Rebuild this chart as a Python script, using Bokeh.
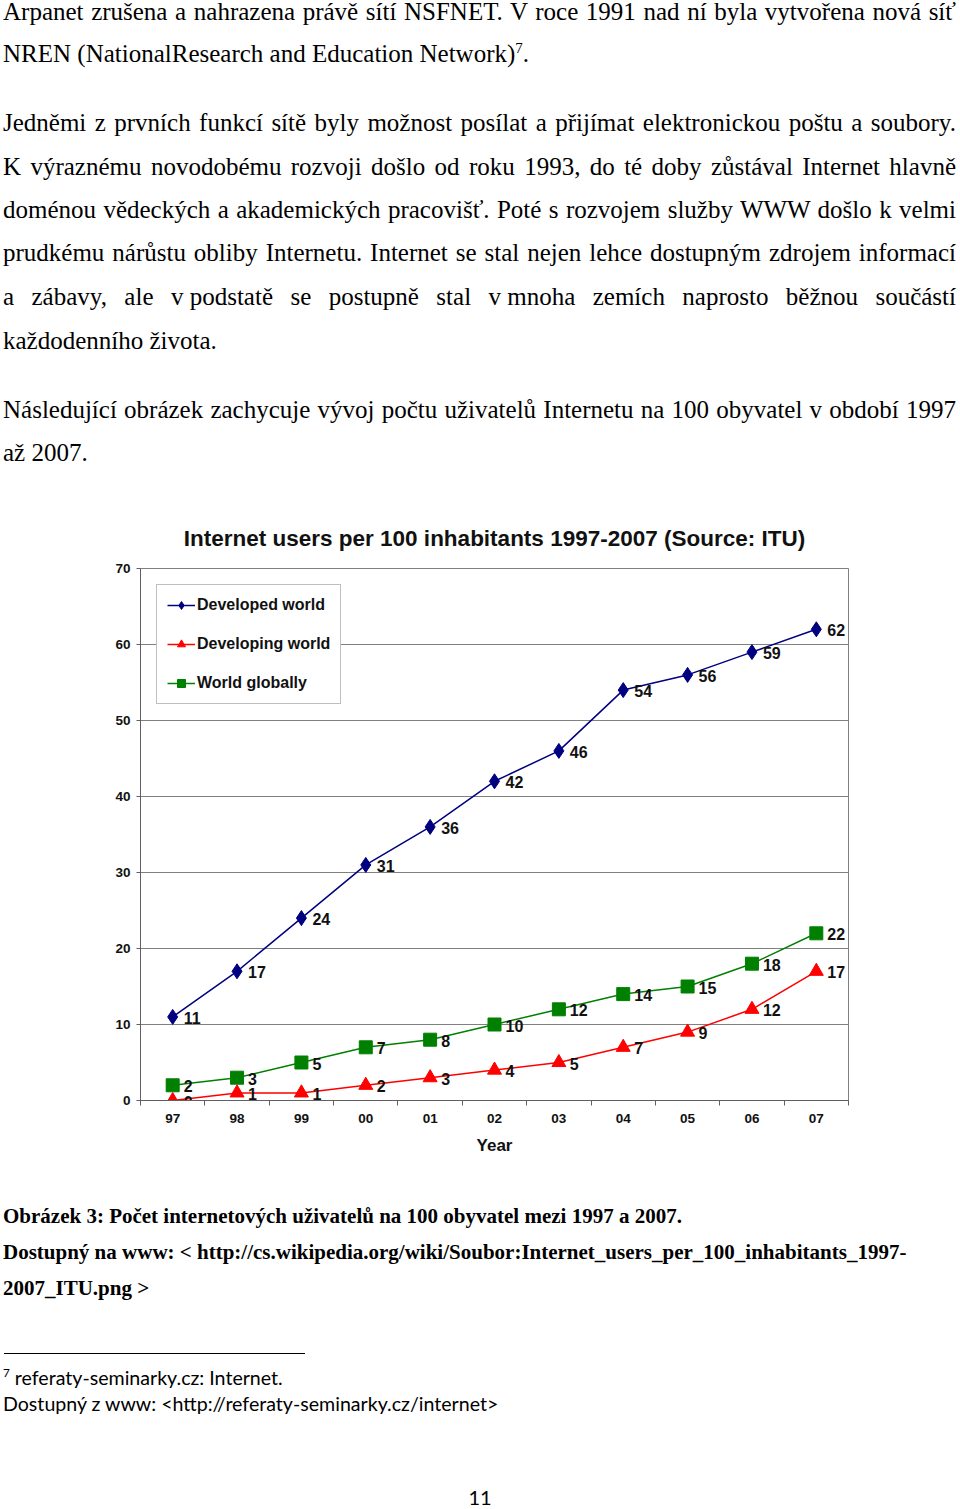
from bokeh.plotting import figure
from bokeh.models import Range1d, FixedTicker, Div, Legend, LegendItem
from bokeh.layouts import column
from bokeh.embed import file_html
from bokeh.resources import INLINE
from bokeh.core.properties import value

# ---------------- chart data ----------------
years = ["97", "98", "99", "00", "01", "02", "03", "04", "05", "06", "07"]
developed = [11, 17, 24, 31, 36, 42, 46, 54, 56, 59, 62]
developing = [0, 1, 1, 2, 3, 4, 5, 7, 9, 12, 17]
world = [2, 3, 5, 7, 8, 10, 12, 14, 15, 18, 22]
y_ticks = [0, 10, 20, 30, 40, 50, 60, 70]
series_names = ["Developed world", "Developing world", "World globally"]
chart_title = "Internet users per 100 inhabitants 1997-2007 (Source: ITU)"

# ---------------- page text ----------------
NB = "<span style='display:inline-block'>%s</span>"
top_lines = [
    ("Arpanet zrušena a nahrazena právě sítí NSFNET. V roce 1991 nad ní byla vytvořena nová síť", True, 12),
    ("NREN (NationalResearch and Education Network)<sup style='font-size:60%;line-height:0'>7</sup>.", False, 54),
    ("Jedněmi z prvních funkcí sítě byly možnost posílat a přijímat elektronickou poštu a soubory.", True, 123),
    ("K výraznému novodobému rozvoji došlo od roku 1993, do té doby zůstával Internet hlavně", True, 167),
    ("doménou vědeckých a akademických pracovišť. Poté s rozvojem služby WWW došlo k velmi", True, 210),
    ("prudkému nárůstu obliby Internetu. Internet se stal nejen lehce dostupným zdrojem informací", True, 253),
    ("a zábavy, ale " + NB % "v&nbsp;podstatě" + " se postupně stal " + NB % "v&nbsp;mnoha"
     + " zemích naprosto běžnou součástí", True, 297),
    ("každodenního života.", False, 341),
    ("Následující obrázek zachycuje vývoj počtu uživatelů Internetu na 100 obyvatel v období 1997", True, 410),
    ("až 2007.", False, 453),
]
caption_lines = [
    ("Obrázek 3: Počet internetových uživatelů na 100 obyvatel mezi 1997 a 2007.", 1216),
    ("Dostupný na www: &lt; http://cs.wikipedia.org/wiki/Soubor:Internet_users_per_100_inhabitants_1997-", 1252),
    ("2007_ITU.png &gt;", 1288),
]
footnote_lines = [
    ("<sup style='font-size:60%;line-height:0'>7</sup> referaty-seminarky.cz: Internet.", 1378),
    ("Dostupný z www: &lt;http://referaty-seminarky.cz/internet&gt;", 1404),
]
page_number = "11"

TOP_Y = 0
TOP_H = 500
CHART_H = 670
BOT_Y = TOP_Y + TOP_H + CHART_H
BOT_H = 338
PAGE_W = 956


def line_html(text, top, justify, font, size, lh, weight="normal", left=3, width=953, align=None):
    if align is None:
        align = "justify" if justify else "left"
    last = "justify" if justify else align
    return (f"<div style=\"position:absolute;left:{left}px;top:{top}px;width:{width}px;"
            f"font-family:'{font}';font-size:{size}px;line-height:{lh}px;font-weight:{weight};"
            f"color:#000;text-align:{align};text-align-last:{last};\">{text}</div>")


top_parts = []
for txt, just, cy in top_lines:
    top_parts.append(line_html(txt, cy - TOP_Y - 14, just, "Liberation Serif", 25, 28))
top_html = (f"<div style='position:relative;width:{PAGE_W}px;height:{TOP_H}px;overflow:visible'>"
            + "".join(top_parts) + "</div>")

bot_parts = []
for txt, cy in caption_lines:
    bot_parts.append(line_html(txt, cy - BOT_Y - 12, False, "Liberation Serif", 21, 24, weight="bold"))
bot_parts.append(f"<div style='position:absolute;left:4px;top:{1353 - BOT_Y}px;width:301px;"
                 f"height:0;border-top:1px solid #000'></div>")
for txt, cy in footnote_lines:
    bot_parts.append(line_html(txt, cy - BOT_Y - 12, False, "Lato", 19.6, 24))
bot_parts.append(line_html(page_number, 1497 - BOT_Y - 12, False, "Lato", 20, 24,
                           left=0, width=960, align="center"))
bot_html = (f"<div style='position:relative;width:{PAGE_W}px;height:{BOT_H}px;overflow:visible'>"
            + "".join(bot_parts) + "</div>")

top_div = Div(text=top_html, width=PAGE_W, height=TOP_H, margin=0, styles={"overflow": "visible"})
bot_div = Div(text=bot_html, width=PAGE_W, height=BOT_H, margin=0, styles={"overflow": "visible"})

# ---------------- chart ----------------
idx = list(range(len(years)))
FONT = "Liberation Sans"

p = figure(width=944, height=CHART_H, output_backend="svg", toolbar_location=None,
           x_range=Range1d(-0.5, len(years) - 0.5), y_range=Range1d(y_ticks[0], y_ticks[-1]),
           min_border_left=140, min_border_right=96, min_border_top=68, min_border_bottom=70,
           title=chart_title, margin=0)
p.title.align = "center"
p.title.text_font = FONT
p.title.text_font_size = "22.5px"
p.title.text_font_style = "bold"
p.title.text_color = "#111111"
p.title.standoff = 36

p.outline_line_color = "#808080"
p.outline_line_width = 1
p.background_fill_color = "white"
p.border_fill_color = "white"

p.xaxis.ticker = FixedTicker(ticks=idx, minor_ticks=[i - 0.5 for i in range(len(years) + 1)])
p.xaxis.major_label_overrides = {i: y for i, y in enumerate(years)}
p.xaxis.major_tick_out = 0
p.xaxis.major_tick_in = 0
p.xaxis.minor_tick_out = 5
p.xaxis.minor_tick_in = 0
p.xaxis.major_label_standoff = 8
p.xaxis.axis_label = "Year"
p.xaxis.axis_label_standoff = 10
p.xaxis.axis_label_text_font = FONT
p.xaxis.axis_label_text_font_style = "bold"
p.xaxis.axis_label_text_font_size = "17px"
p.xaxis.axis_label_text_color = "#111111"

p.yaxis.ticker = FixedTicker(ticks=y_ticks)
p.yaxis.major_tick_out = 4
p.yaxis.major_tick_in = 0
p.yaxis.minor_tick_out = 0
p.yaxis.minor_tick_in = 0
p.yaxis.major_label_standoff = 6

for ax in (p.xaxis, p.yaxis):
    ax.axis_line_color = "#606060"
    ax.major_tick_line_color = "#606060"
    ax.minor_tick_line_color = "#606060"
    ax.major_label_text_font = FONT
    ax.major_label_text_font_style = "bold"
    ax.major_label_text_font_size = "13.5px"
    ax.major_label_text_color = "#111111"

p.xgrid.visible = False
p.ygrid.ticker = FixedTicker(ticks=y_ticks)
p.ygrid.grid_line_color = "#808080"
p.ygrid.grid_line_width = 1

specs = [
    (developed, "#000080", "diamond", 15),
    (developing, "#FF0000", "triangle", 14),
    (world, "#008000", "square", 13),
]
items = []
for (vals, col, mk, sz), name in zip(specs, series_names):
    rl = p.line(idx, vals, line_color=col, line_width=1.5)
    rm = p.scatter(idx, vals, marker=mk, size=sz, fill_color=col, line_color=col)
    p.text(idx, vals, text=[str(v) for v in vals], x_offset=11, y_offset=1,
           text_baseline="middle", text_align="left", text_font=value(FONT),
           text_font_style="bold", text_font_size="16px", text_color="#111111")
    items.append(LegendItem(label=name, renderers=[rl, rm]))

legend = Legend(items=items, location="top_left", margin=16, padding=10,
                border_line_color="#808080", border_line_width=1,
                background_fill_color="white", background_fill_alpha=1,
                label_text_font=FONT, label_text_font_style="bold",
                label_text_font_size="16px", label_text_color="#111111",
                glyph_width=28, glyph_height=20, label_height=20,
                spacing=19, label_standoff=2)
p.add_layout(legend)

layout = column(top_div, p, bot_div)

open("out.html", "w").write(file_html(layout, INLINE))
